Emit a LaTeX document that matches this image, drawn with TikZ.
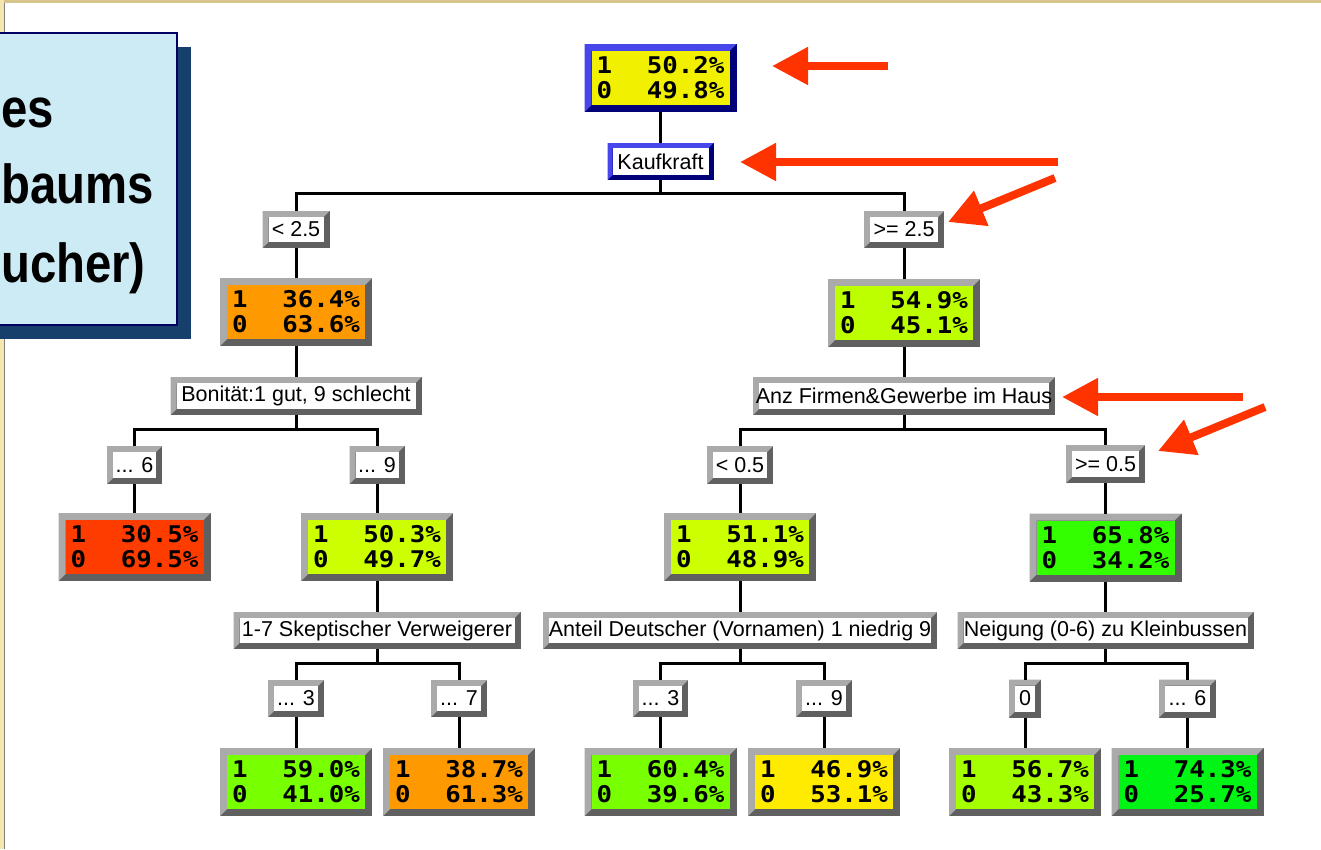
\documentclass[tikz,border=0pt]{standalone}
\usepackage{fontspec}
\setmainfont{Liberation Sans}
\newfontfamily\titlefont{Liberation Sans}[FakeStretch=0.86]
\newfontfamily\datafont{DejaVu Sans Mono}[FakeStretch=1.12]
\usetikzlibrary{arrows.meta}
\definecolor{cyel}{RGB}{240,240,0}
\definecolor{corange}{RGB}{255,153,0}
\definecolor{cred}{RGB}{255,60,0}
\definecolor{cyg}{RGB}{204,255,0}
\definecolor{cyg2}{RGB}{190,255,0}
\definecolor{cyg3}{RGB}{165,255,0}
\definecolor{cg1}{RGB}{120,255,0}
\definecolor{cg2}{RGB}{51,255,0}
\definecolor{cg3}{RGB}{0,245,20}
\definecolor{cy2}{RGB}{255,235,0}
\definecolor{glight}{RGB}{170,170,170}
\definecolor{gdark}{RGB}{96,96,96}
\definecolor{blight}{RGB}{70,70,235}
\definecolor{bdark}{RGB}{0,0,120}
\definecolor{arrowred}{RGB}{255,51,0}
\definecolor{panelblue}{RGB}{205,235,245}
\definecolor{panelshadow}{RGB}{22,63,107}
\definecolor{panelborder}{RGB}{0,0,100}
\definecolor{beigeA}{RGB}{245,230,175}
\definecolor{tanA}{RGB}{215,195,140}
\newcommand{\dat}[2]{\parbox{128pt}{1\hfill #1\%\\0\hfill #2\%}}
\tikzset{
  bevel/.style n args={4}{rectangle, inner sep=0pt, outer sep=0pt, fill=#3,
    path picture={
      \fill[#2] (path picture bounding box.north west) -- (path picture bounding box.north east)
        -- ([xshift=-#1pt,yshift=-#1pt]path picture bounding box.north east)
        -- ([xshift=#1pt,yshift=-#1pt]path picture bounding box.north west)
        -- ([xshift=#1pt,yshift=#1pt]path picture bounding box.south west)
        -- (path picture bounding box.south west) -- cycle;
      \fill[#4] ([xshift=#1pt,yshift=-#1pt]path picture bounding box.north west)
        rectangle ([xshift=-#1pt,yshift=#1pt]path picture bounding box.south east);
    }},
  datab/.style={bevel={7}{glight}{gdark}{#1}, minimum width=152pt, minimum height=68pt,
    font=\datafont\bfseries\fontsize{23}{25}\selectfont},
  lab/.style={bevel={6}{glight}{gdark}{white}, minimum width=#1, minimum height=37pt,
    font=\fontsize{21.5}{24}\selectfont},
  conn/.style={line width=3pt, black},
  redarrow/.style={draw=arrowred, line width=8pt, -{Triangle[length=36pt,width=36pt]}},
  titletext/.style={anchor=base west, inner sep=0pt, font=\titlefont\bfseries\fontsize{55}{60}\selectfont}
}
\begin{document}
\begin{tikzpicture}[x=1pt,y=-1pt]
\useasboundingbox (0,0) rectangle (1321,849);
\clip (0,0) rectangle (1321,849);
\fill[white] (0,0) rectangle (1321,849);
% page border
\fill[tanA] (0,0) rectangle (1321,2.5);
\fill[beigeA] (0,0) rectangle (3.5,849);
\draw[gray, line width=1.5pt] (4.3,2.5) -- (4.3,849);
% title panel
\fill[panelshadow] (-20,47) rectangle (191,339);
\filldraw[fill=panelblue, draw=panelborder, line width=1.5pt] (-20,33) rectangle (177,325);
\node[titletext] (t1) at (1,127) {es};
\node[titletext] (t2) at (1,203) {baums};
\node[titletext] (t3) at (1,282) {ucher)};
% tree nodes
\node[datab=cyel, bevel={7}{blight}{bdark}{cyel}] (root) at (660.5,78) {\dat{50.2}{49.8}};
\node[lab=106pt, bevel={5}{blight}{bdark}{white}] (kauf) at (660.5,161.5) {Kaufkraft};
\node[lab=67pt] (lt25) at (296,229.5) {< 2.5};
\node[lab=80pt] (ge25) at (904,229.5) {>= 2.5};
\node[datab=corange] (d364) at (296,312) {\dat{36.4}{63.6}};
\node[datab=cyg2] (d549) at (904,313) {\dat{54.9}{45.1}};
\node[lab=251pt, minimum height=38pt] (bon) at (296,396) {Bonität:1 gut, 9 schlecht};
\node[lab=302pt, minimum height=38pt] (anz) at (904,396) {Anz Firmen\&Gewerbe im Haus};
\node[lab=55pt, minimum height=38pt] (le6) at (134.5,465) {... 6};
\node[lab=55pt, minimum height=38pt] (le9) at (377,465) {... 9};
\node[lab=66pt, minimum height=38pt] (lt05) at (740,465) {< 0.5};
\node[lab=79pt, minimum height=38pt] (ge05) at (1105.5,464) {>= 0.5};
\node[datab=cred] (d305) at (134.5,547) {\dat{30.5}{69.5}};
\node[datab=cyg] (d503) at (377,547) {\dat{50.3}{49.7}};
\node[datab=cyg] (d511) at (740,547) {\dat{51.1}{48.9}};
\node[datab=cg2] (d658) at (1105.5,547.5) {\dat{65.8}{34.2}};
\node[lab=287pt] (sk) at (377,630.5) {1-7 Skeptischer Verweigerer};
\node[lab=394pt] (an) at (740,630.5) {Anteil Deutscher (Vornamen) 1 niedrig 9};
\node[lab=296pt] (ne) at (1105.5,630.5) {Neigung (0-6) zu Kleinbussen};
\node[lab=56pt] (l3a) at (296,698.5) {... 3};
\node[lab=56pt] (l7) at (459,698.5) {... 7};
\node[lab=55pt] (l3b) at (660.5,698.5) {... 3};
\node[lab=56pt] (l9) at (824,698.5) {... 9};
\node[lab=32pt, minimum height=38pt] (l0) at (1025,698.5) {0};
\node[lab=57pt, minimum height=38pt] (l6) at (1187.5,698.5) {... 6};
\node[datab=cg1] (d590) at (296,782) {\dat{59.0}{41.0}};
\node[datab=corange] (d387) at (459,782) {\dat{38.7}{61.3}};
\node[datab=cg1] (d604) at (660.5,782) {\dat{60.4}{39.6}};
\node[datab=cy2] (d469) at (824,782) {\dat{46.9}{53.1}};
\node[datab=cyg3] (d567) at (1025,782) {\dat{56.7}{43.3}};
\node[datab=cg3] (d743) at (1187.5,782) {\dat{74.3}{25.7}};
% connectors
\draw[conn] (root) -- (kauf);
\draw[conn] (kauf.south) -- ++(0,13) -| (lt25.north);
\draw[conn] (kauf.south) -- ++(0,13) -| (ge25.north);
\draw[conn] (lt25) -- (d364);
\draw[conn] (ge25) -- (d549);
\draw[conn] (d364) -- (bon);
\draw[conn] (d549) -- (anz);
\draw[conn] (bon.south) -- ++(0,14) -| (le6.north);
\draw[conn] (bon.south) -- ++(0,14) -| (le9.north);
\draw[conn] (anz.south) -- ++(0,14) -| (lt05.north);
\draw[conn] (anz.south) -- ++(0,14) -| (ge05.north);
\draw[conn] (le6) -- (d305);
\draw[conn] (le9) -- (d503);
\draw[conn] (lt05) -- (d511);
\draw[conn] (ge05) -- (d658);
\draw[conn] (d503) -- (sk);
\draw[conn] (d511) -- (an);
\draw[conn] (d658) -- (ne);
\draw[conn] (sk.south) -- ++(0,14) -| (l3a.north);
\draw[conn] (sk.south) -- ++(0,14) -| (l7.north);
\draw[conn] (an.south) -- ++(0,14) -| (l3b.north);
\draw[conn] (an.south) -- ++(0,14) -| (l9.north);
\draw[conn] (ne.south) -- ++(0,14) -| (l0.north);
\draw[conn] (ne.south) -- ++(0,14) -| (l6.north);
\draw[conn] (l3a) -- (d590);
\draw[conn] (l7) -- (d387);
\draw[conn] (l3b) -- (d604);
\draw[conn] (l9) -- (d469);
\draw[conn] (l0) -- (d567);
\draw[conn] (l6) -- (d743);
% red arrows
\coordinate (a1s) at (888,66);  \coordinate (a1e) at (772,66);
\coordinate (a2s) at (1058,162); \coordinate (a2e) at (740,162);
\coordinate (a3s) at (1055,178); \coordinate (a3e) at (948,222);
\coordinate (a4s) at (1243,397); \coordinate (a4e) at (1062,397);
\coordinate (a5s) at (1265,407); \coordinate (a5e) at (1158,451);
\draw[redarrow] (a1s) -- (a1e);
\draw[redarrow] (a2s) -- (a2e);
\draw[redarrow] (a3s) -- (a3e);
\draw[redarrow] (a4s) -- (a4e);
\draw[redarrow] (a5s) -- (a5e);
\end{tikzpicture}
\end{document}
